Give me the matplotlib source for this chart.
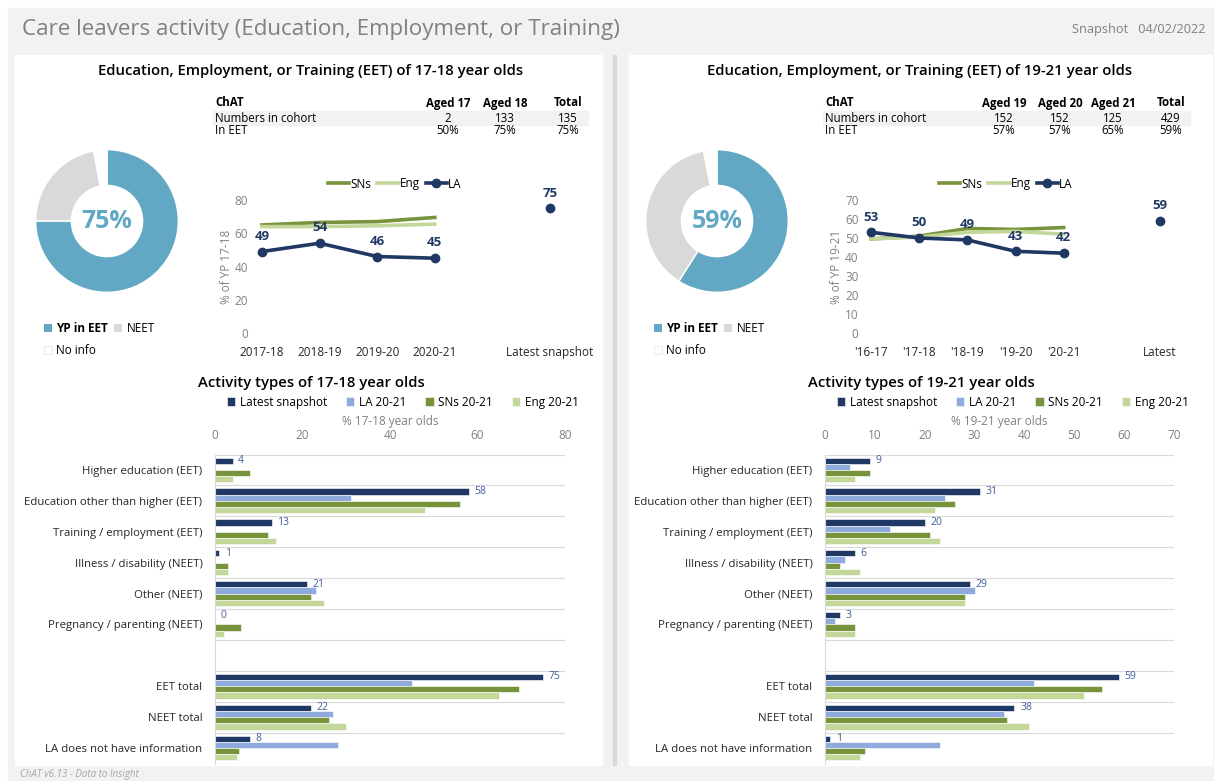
import numpy as np
import matplotlib
matplotlib.use("Agg")
from matplotlib import pyplot as plt
from matplotlib.patches import Rectangle

plt.rcParams['font.family'] = ['Open Sans', 'DejaVu Sans']

W, H = 1218, 781

# ---- data ----
# trend of EET, 17-18 year olds
years_1718 = ["2017-18", "2018-19", "2019-20", "2020-21"]
sns_1718 = [65, 66.5, 67, 69.5]
eng_1718 = [64, 64, 64.5, 65.5]
la_1718 = [49, 54, 46, 45]
latest_1718 = 75

# trend of EET, 19-21 year olds
years_1921 = ["'16-17", "'17-18", "'18-19", "'19-20", "'20-21"]
sns_1921 = [49.5, 51, 55, 54.5, 55.5]
eng_1921 = [49.5, 50.5, 53, 53.5, 52]
la_1921 = [53, 50, 49, 43, 42]
latest_1921 = 59

# donuts
donut_labels = ["YP in EET", "NEET", "No info"]
donut_1718 = [75, 22, 3]
donut_1921 = [59, 38, 3]

# cohort tables
cols_1718 = ["Aged 17", "Aged 18", "Total"]
cohort_1718 = ["2", "133", "135"]
in_eet_1718 = ["50%", "75%", "75%"]
cols_1921 = ["Aged 19", "Aged 20", "Aged 21", "Total"]
cohort_1921 = ["152", "152", "125", "429"]
in_eet_1921 = ["57%", "57%", "65%", "59%"]

# activity types
activity_types = ["Higher education (EET)", "Education other than higher (EET)",
                  "Training / employment (EET)", "Illness / disability (NEET)",
                  "Other (NEET)", "Pregnancy / parenting (NEET)", "",
                  "EET total", "NEET total", "LA does not have information"]
series_names = ["Latest snapshot", "LA 20-21", "SNs 20-21", "Eng 20-21"]
nan = np.nan

act_latest_1718 = [4, 58, 13, 1, 21, 0, nan, 75, 22, 8]
act_la_1718 = [0, 31, 0, 0, 23, 0, nan, 45, 27, 28]
act_sns_1718 = [8, 56, 12, 3, 22, 6, nan, 69.5, 26, 5.5]
act_eng_1718 = [4, 48, 14, 3, 25, 2, nan, 65, 30, 5]

act_latest_1921 = [9, 31, 20, 6, 29, 3, nan, 59, 38, 1]
act_la_1921 = [5, 24, 13, 4, 30, 2, nan, 42, 36, 23]
act_sns_1921 = [9, 26, 21, 3, 28, 6, nan, 55.5, 36.5, 8]
act_eng_1921 = [6, 22, 23, 7, 28, 6, nan, 52, 41, 7]

# ---- colours ----
NAVY = "#203864"
LA_BLUE = "#8faadc"
SNS_GREEN = "#77933c"
ENG_GREEN = "#c4d79b"
DONUT_BLUE = "#62a8c4"
NEET_GREY = "#d9d9d9"
GREY_TEXT = "#808080"
DARK_TEXT = "#262626"
LABEL_BLUE = "#3f5f9c"


def px_rect(x0, y0, x1, y1):
    """Pixel box (origin top-left) to figure fraction rect"""
    return [x0 / W, 1 - y1 / H, (x1 - x0) / W, (y1 - y0) / H]


fig = plt.figure(figsize=(W / 100, H / 100), dpi=100, facecolor="white")

# Background canvas in pixel coordinates
bg = fig.add_axes([0, 0, 1, 1])
bg.set_xlim(0, W)
bg.set_ylim(H, 0)
bg.axis("off")
bg.add_patch(Rectangle((8, 8), 1205, 773, color="#f2f2f2"))
bg.add_patch(Rectangle((15, 55), 587, 710, color="white"))
bg.add_patch(Rectangle((629, 55), 583, 710, color="white"))
bg.add_patch(Rectangle((613, 55), 3, 710, color="#d9d9d9"))

bg.text(22, 30, "Care leavers activity (Education, Employment, or Training)",
        fontsize=16.1, color=GREY_TEXT, va="center")
bg.text(1206, 30, "Snapshot   04/02/2022", fontsize=9.2, color=GREY_TEXT,
        va="center", ha="right")
bg.text(20, 774, "ChAT v6.13 - Data to Insight", fontsize=7, color="#a6a6a6",
        fontstyle="italic", va="center")

# Panel titles
bg.text(311, 71, "Education, Employment, or Training (EET) of 17-18 year olds",
        fontsize=10.7, fontweight="semibold", ha="center", va="center")
bg.text(920, 71, "Education, Employment, or Training (EET) of 19-21 year olds",
        fontsize=10.7, fontweight="semibold", ha="center", va="center")
bg.text(311, 383, "Activity types of 17-18 year olds",
        fontsize=10.7, fontweight="semibold", ha="center", va="center")
bg.text(921, 383, "Activity types of 19-21 year olds",
        fontsize=10.7, fontweight="semibold", ha="center", va="center")


def draw_table(x_left, band_right, centres, cols, cohort, in_eet):
    bg.add_patch(Rectangle((x_left - 2, 111), band_right - x_left + 2, 14, color="#f2f2f2"))
    bg.text(x_left, 103, "ChAT", fontsize=8.3, fontweight="bold", va="center")
    bg.text(x_left, 118, "Numbers in cohort", fontsize=8.3, va="center")
    bg.text(x_left, 131, "In EET", fontsize=8.3, va="center")
    for cx, c, n, p in zip(centres, cols, cohort, in_eet):
        bg.text(cx, 103, c, fontsize=8.3, fontweight="bold", ha="center", va="center")
        bg.text(cx, 118, n, fontsize=8.3, ha="center", va="center")
        bg.text(cx, 131, p, fontsize=8.3, ha="center", va="center")


draw_table(215, 588, [448, 505, 568], cols_1718, cohort_1718, in_eet_1718)
draw_table(825, 1190, [1004, 1060, 1113, 1171], cols_1921, cohort_1921, in_eet_1921)


def draw_donut(rect, values, legend_xy):
    ax = fig.add_axes(px_rect(*rect))
    ax.pie(values, colors=[DONUT_BLUE, NEET_GREY, "white"], startangle=90,
           counterclock=False, wedgeprops=dict(width=0.5, edgecolor="white", linewidth=1))
    ax.set_xlim(-1.01, 1.01)
    ax.set_ylim(-1.01, 1.01)
    ax.set_aspect("equal")
    ax.text(0, 0, "%d%%" % values[0], ha="center", va="center", fontsize=18,
            fontweight="bold", color=DONUT_BLUE)

    # legend is row-major in the reference: reorder for matplotlib's column fill
    handles = [Rectangle((0, 0), 1, 1, facecolor=DONUT_BLUE),
               Rectangle((0, 0), 1, 1, facecolor="white", edgecolor="#e6e6e6", linewidth=0.6),
               Rectangle((0, 0), 1, 1, facecolor=NEET_GREY)]
    labels = [donut_labels[0], donut_labels[2], donut_labels[1]]
    leg = ax.legend(handles, labels, ncol=2, loc="upper left",
                    bbox_to_anchor=(legend_xy[0] / W, 1 - legend_xy[1] / H),
                    bbox_transform=fig.transFigure, frameon=False, fontsize=8.5,
                    handlelength=0.7, handleheight=0.7, handletextpad=0.35,
                    columnspacing=0.5, labelspacing=0.75, borderpad=0, borderaxespad=0)
    leg.get_texts()[0].set_fontweight("bold")


draw_donut((35, 149, 179, 293), donut_1718, (44, 322))
draw_donut((645, 149, 789, 293), donut_1921, (654, 322))


def draw_trend(rect, cats, sns, eng, la, latest, latest_label, ymax, ystep,
               ylabel, ylabel_x, legend_x):
    ax = fig.add_axes(px_rect(*rect))
    ax.patch.set_visible(False)
    x = list(range(len(cats)))
    latest_x = len(cats) + 1
    ax.plot(x, sns, color=SNS_GREEN, lw=2.6, label="SNs")
    ax.plot(x, eng, color=ENG_GREEN, lw=2.6, label="Eng")
    ax.plot(x, la, color=NAVY, lw=2.6, marker="o", ms=6, label="LA")
    ax.plot([latest_x], [latest], color=NAVY, marker="o", ms=6, ls="none")
    for xi, v in zip(x + [latest_x], la + [latest]):
        ax.annotate("%d" % v, (xi, v), xytext=(0, 11), textcoords="offset points",
                    ha="center", va="center", fontsize=9.5, fontweight="bold",
                    color=NAVY, annotation_clip=False)
    ax.set_xlim(-0.2, latest_x + 0.2)
    ax.set_ylim(0, ymax)
    ax.set_yticks(np.arange(0, ymax + 1, ystep))
    ax.set_xticks(x + [latest_x], cats + [latest_label])
    for s in ax.spines.values():
        s.set_visible(False)
    ax.tick_params(axis="y", length=0, pad=2, labelsize=8.5, labelcolor=GREY_TEXT)
    ax.tick_params(axis="x", length=0, pad=9, labelsize=8.5, labelcolor=DARK_TEXT)
    bg.text(ylabel_x, (rect[1] + rect[3]) / 2, ylabel, rotation=90, ha="center",
            va="center", fontsize=8.5, color=GREY_TEXT)
    ax.legend(ncol=3, loc="center", bbox_to_anchor=(legend_x / W, 1 - 184 / H),
              bbox_transform=fig.transFigure, frameon=False, fontsize=8.5,
              handlelength=1.8, handletextpad=0.1, columnspacing=0.5)


draw_trend((250.5, 200, 561.5, 333), years_1718, sns_1718, eng_1718, la_1718,
           latest_1718, "Latest snapshot", 80, 20, "% of YP 17-18", 227, 395)
draw_trend((861.4, 200, 1169.6, 333), years_1921, sns_1921, eng_1921, la_1921,
           latest_1921, "Latest", 70, 10, "% of YP 19-21", 837, 1006)


def draw_activity(rect, latest, la, sns, eng, xmax, xstep, xlabel, legend_x):
    ax = fig.add_axes(px_rect(*rect))
    ax.patch.set_visible(False)
    y = np.arange(len(activity_types))
    h = 0.2
    series = [latest, la, sns, eng]
    colors = [NAVY, LA_BLUE, SNS_GREEN, ENG_GREEN]
    for j, (vals, col, name) in enumerate(zip(series, colors, series_names)):
        ax.barh(y + (j - 1.5) * h, vals, height=h, color=col, label=name,
                edgecolor="white", linewidth=0.4)
    for yi, v in zip(y, latest):
        if np.isnan(v):
            continue
        ax.annotate("%d" % v, (v, yi - 1.5 * h), xytext=(4, 0), textcoords="offset points",
                    ha="left", va="center", fontsize=7.5, color=LABEL_BLUE)
    ax.set_ylim(len(activity_types) - 0.5, -0.5)
    ax.set_xlim(0, xmax)
    ax.set_xticks(np.arange(0, xmax + 1, xstep))
    ax.set_yticks(y, activity_types)
    ax.set_yticks(np.arange(-0.5, len(activity_types), 1), minor=True)
    ax.grid(axis="y", which="minor", color="#d9d9d9", linewidth=0.8)
    ax.xaxis.tick_top()
    ax.xaxis.set_label_position("top")
    ax.set_xlabel(xlabel, fontsize=8.5, color=GREY_TEXT, labelpad=3)
    for side in ["top", "right", "bottom"]:
        ax.spines[side].set_visible(False)
    ax.spines["left"].set_color("#d9d9d9")
    ax.tick_params(axis="both", which="both", length=0)
    ax.tick_params(axis="x", pad=9, labelsize=8.5, labelcolor=GREY_TEXT)
    ax.tick_params(axis="y", pad=9, labelsize=8.2, labelcolor=DARK_TEXT)
    ax.legend(ncol=4, loc="center", bbox_to_anchor=(legend_x / W, 1 - 402 / H),
              bbox_transform=fig.transFigure, frameon=False, fontsize=8.5,
              handlelength=0.7, handleheight=0.7, handletextpad=0.4, columnspacing=1.6)


draw_activity((215, 454.5, 565, 763.5), act_latest_1718, act_la_1718, act_sns_1718,
              act_eng_1718, 80, 20, "% 17-18 year olds", 403)
draw_activity((825, 454.5, 1174, 763.5), act_latest_1921, act_la_1921, act_sns_1921,
              act_eng_1921, 70, 10, "% 19-21 year olds", 1013)

fig.savefig("out.png", dpi=100, facecolor=fig.get_facecolor())
